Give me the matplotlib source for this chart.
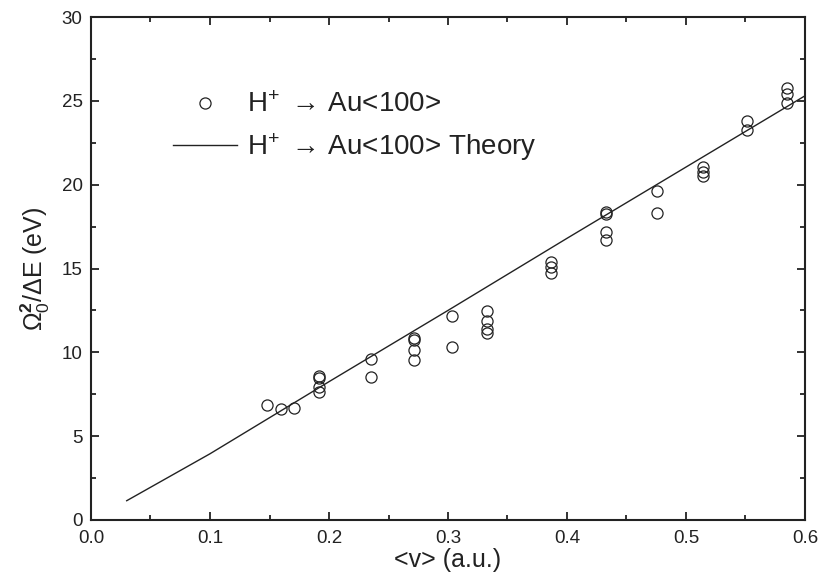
import matplotlib
matplotlib.use("Agg")
import matplotlib.pyplot as plt
from matplotlib.ticker import MultipleLocator, FormatStrFormatter

plt.rcParams['font.family'] = ['Liberation Sans', 'DejaVu Sans']
plt.rcParams['mathtext.fontset'] = 'custom'
plt.rcParams['mathtext.rm'] = 'Liberation Sans'
plt.rcParams['mathtext.it'] = 'Liberation Sans:italic'
plt.rcParams['mathtext.bf'] = 'Liberation Sans:bold'

# Experimental data: H+ -> Au<100>
exp_v = [0.148, 0.160, 0.171,
         0.1916, 0.1916, 0.1916, 0.1916,
         0.235, 0.235,
         0.2714, 0.2714, 0.2714, 0.2714,
         0.3037, 0.3037,
         0.3328, 0.3328, 0.3328, 0.3328,
         0.3863, 0.3863, 0.3863,
         0.4325, 0.4325, 0.4325, 0.4325,
         0.4754, 0.4754,
         0.514, 0.514, 0.514,
         0.551, 0.551,
         0.5851, 0.5851, 0.5851]
exp_y = [6.86, 6.62, 6.66,
         8.59, 8.45, 7.95, 7.65,
         9.60, 8.55,
         10.87, 10.75, 10.14, 9.52,
         12.16, 10.32,
         12.48, 11.88, 11.39, 11.13,
         15.40, 15.10, 14.75,
         18.38, 18.25, 17.17, 16.68,
         19.62, 18.33,
         21.07, 20.73, 20.51,
         23.81, 23.26,
         25.74, 25.40, 24.89]

# Theory curve
theory_v = [0.03, 0.1, 0.2, 0.3, 0.4, 0.5, 0.6]
theory_y = [1.15, 3.95, 8.25, 12.5, 16.8, 21.05, 25.3]

fig = plt.figure(figsize=(8.2, 5.82), dpi=100)
ax = fig.add_axes([91/820, 62/582, 714/820, 503/582])

ax.plot(exp_v, exp_y, linestyle='none', marker='o', markersize=8,
        markerfacecolor='none', markeredgecolor='#222222', markeredgewidth=0.9,
        label=r'H$^{+}$ $\rightarrow\,$Au<100>')
ax.plot(theory_v, theory_y, color='#222222', linewidth=1.0,
        label=r'H$^{+}$ $\rightarrow\,$Au<100> Theory')

ax.set_xlim(0.0, 0.6)
ax.set_ylim(0, 30)
ax.xaxis.set_major_locator(MultipleLocator(0.1))
ax.xaxis.set_minor_locator(MultipleLocator(0.05))
ax.yaxis.set_major_locator(MultipleLocator(5))
ax.yaxis.set_minor_locator(MultipleLocator(2.5))
ax.xaxis.set_major_formatter(FormatStrFormatter('%.1f'))

ax.tick_params(which='both', direction='in', top=True, right=True,
               labelsize=13.5, colors='#222222', width=1.3)
ax.tick_params(which='major', length=6)
ax.tick_params(axis='x', which='major', pad=7)
ax.tick_params(axis='y', which='major', pad=6)
ax.tick_params(which='minor', length=3.5)
for s in ax.spines.values():
    s.set_linewidth(1.5)
    s.set_color('#222222')

ax.set_xlabel('<v> (a.u.)', fontsize=18, color='#222222', labelpad=1)
ax.set_ylabel(r'$\Omega_{0}^{\mathbf{2}}$/ΔE (eV)', fontsize=18, color='#222222', labelpad=7)

leg = ax.legend(loc='upper left', bbox_to_anchor=(0.115, 0.85), frameon=False,
                fontsize=20, handlelength=2.3, handletextpad=0.36,
                labelspacing=0.45, borderpad=0, borderaxespad=0)
for t in leg.get_texts():
    t.set_color('#222222')

fig.savefig('out.png', dpi=100)
